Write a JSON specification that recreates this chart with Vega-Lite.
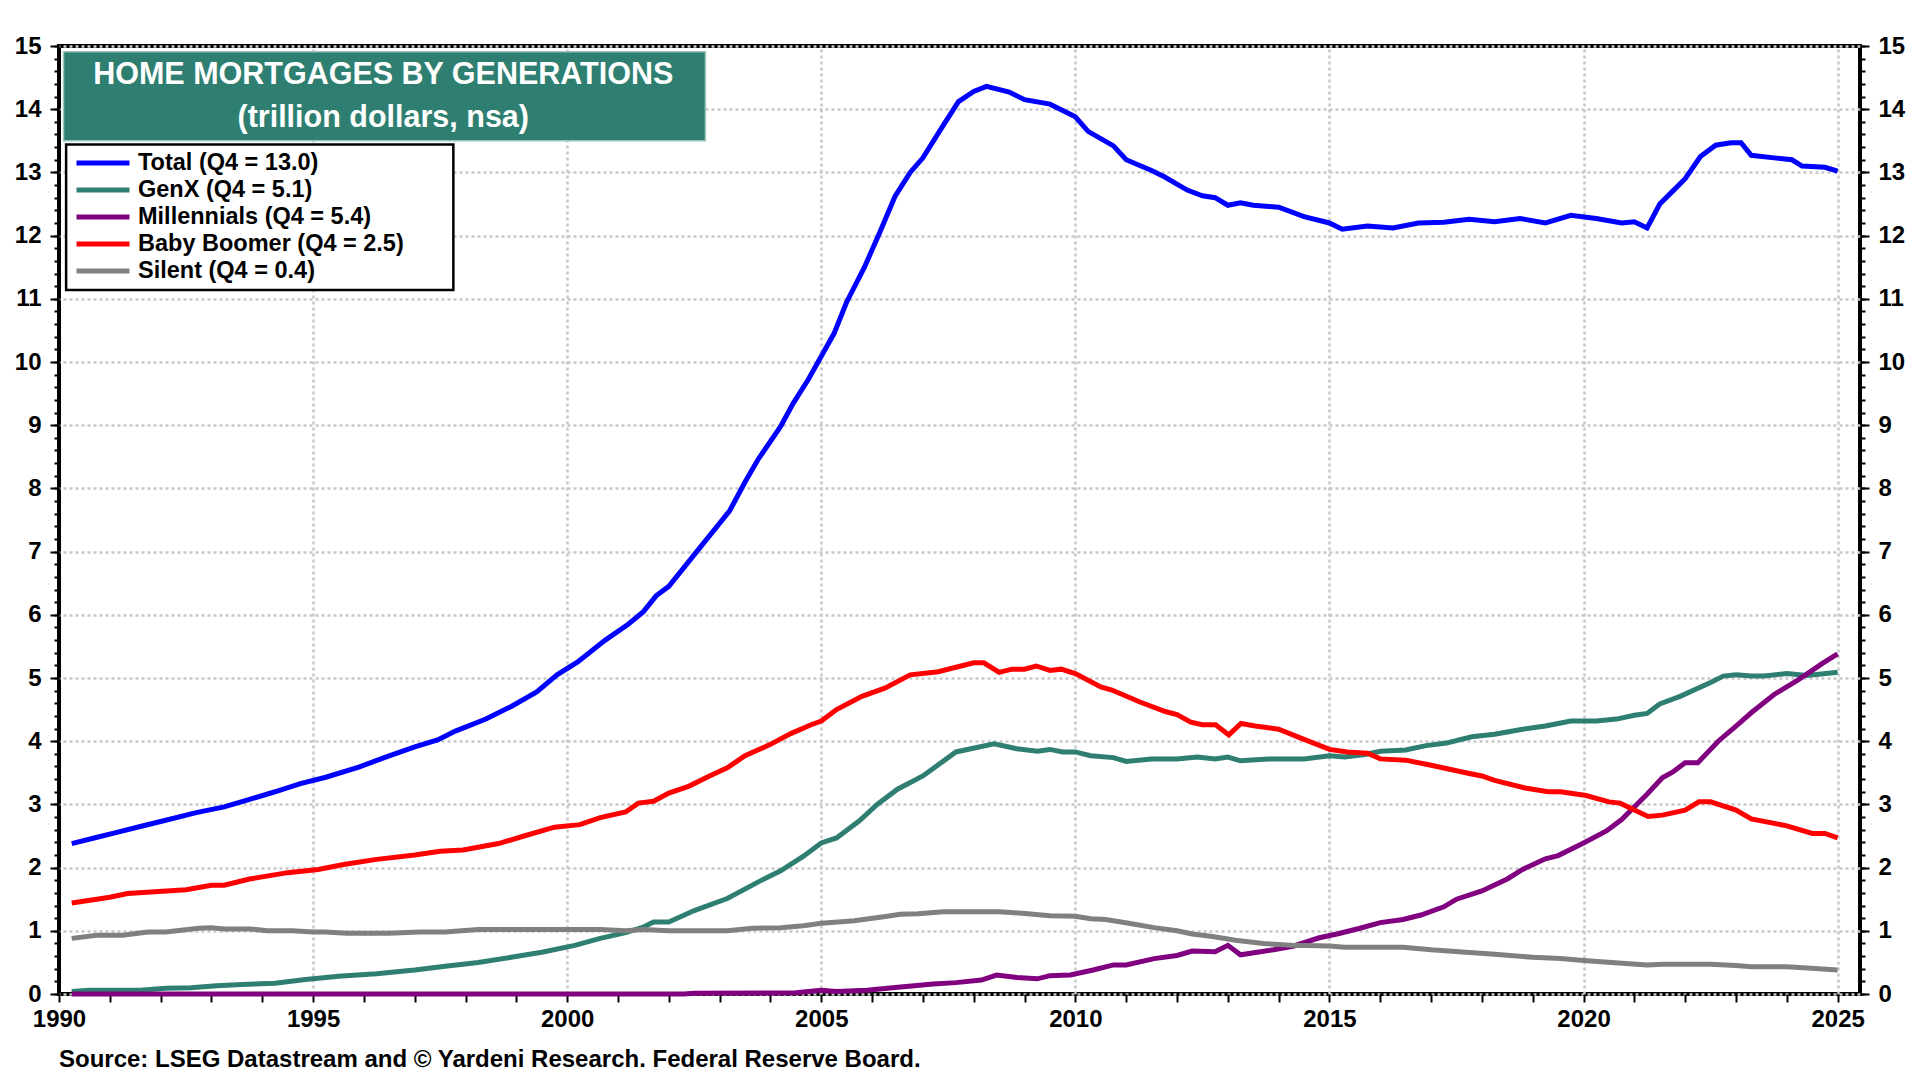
{
  "$schema": "https://vega.github.io/schema/vega-lite/v6.json",
  "width": 1801,
  "height": 948,
  "autosize": {"type": "none"},
  "padding": {"left": 59, "top": 46, "right": 60, "bottom": 86},
  "background": "white",
  "title": {"text": "Source: LSEG Datastream and © Yardeni Research. Federal Reserve Board.", "orient": "bottom", "anchor": "start", "frame": "group", "fontSize": 24, "font": "Liberation Sans", "fontWeight": "bold", "color": "black", "offset": 17},
  "config": {
    "view": {"stroke": "black", "strokeWidth": 4},
    "font": "Liberation Sans",
    "axis": {"labelFont": "Liberation Sans", "labelFontWeight": "bold", "labelFontSize": 24, "labelColor": "black", "tickColor": "black", "tickWidth": 2, "gridColor": "#c8c8c8", "gridDash": [3, 3], "gridWidth": 2.5, "domain": false, "title": null},
    "legend": {"strokeWidth": 0}
  },
  "data": {"values": [
    {"t":1990.25,"s":"Total","v":2.38},{"t":1990.75,"s":"Total","v":2.48},{"t":1991.1,"s":"Total","v":2.55},{"t":1991.6,"s":"Total","v":2.65},{"t":1992.1,"s":"Total","v":2.75},{"t":1992.7,"s":"Total","v":2.87},{"t":1993.25,"s":"Total","v":2.96},{"t":1993.75,"s":"Total","v":3.08},{"t":1994.25,"s":"Total","v":3.2},{"t":1994.75,"s":"Total","v":3.33},{"t":1995.25,"s":"Total","v":3.43},{"t":1995.9,"s":"Total","v":3.59},{"t":1996.4,"s":"Total","v":3.74},{"t":1997.0,"s":"Total","v":3.91},{"t":1997.45,"s":"Total","v":4.02},{"t":1997.8,"s":"Total","v":4.16},{"t":1998.4,"s":"Total","v":4.35},{"t":1998.9,"s":"Total","v":4.55},{"t":1999.4,"s":"Total","v":4.78},{"t":1999.8,"s":"Total","v":5.05},{"t":2000.2,"s":"Total","v":5.25},{"t":2000.75,"s":"Total","v":5.6},{"t":2001.2,"s":"Total","v":5.85},{"t":2001.5,"s":"Total","v":6.05},{"t":2001.75,"s":"Total","v":6.3},{"t":2002.0,"s":"Total","v":6.45},{"t":2002.45,"s":"Total","v":6.9},{"t":2003.2,"s":"Total","v":7.65},{"t":2003.5,"s":"Total","v":8.1},{"t":2003.75,"s":"Total","v":8.45},{"t":2004.2,"s":"Total","v":8.98},{"t":2004.45,"s":"Total","v":9.35},{"t":2004.75,"s":"Total","v":9.73},{"t":2005.0,"s":"Total","v":10.09},{"t":2005.25,"s":"Total","v":10.45},{"t":2005.5,"s":"Total","v":10.95},{"t":2005.85,"s":"Total","v":11.5},{"t":2006.15,"s":"Total","v":12.05},{"t":2006.45,"s":"Total","v":12.62},{"t":2006.75,"s":"Total","v":13.0},{"t":2007.0,"s":"Total","v":13.23},{"t":2007.35,"s":"Total","v":13.68},{"t":2007.7,"s":"Total","v":14.12},{"t":2008.0,"s":"Total","v":14.28},{"t":2008.25,"s":"Total","v":14.36},{"t":2008.7,"s":"Total","v":14.27},{"t":2009.0,"s":"Total","v":14.15},{"t":2009.5,"s":"Total","v":14.08},{"t":2010.0,"s":"Total","v":13.88},{"t":2010.25,"s":"Total","v":13.65},{"t":2010.75,"s":"Total","v":13.42},{"t":2011.0,"s":"Total","v":13.2},{"t":2011.5,"s":"Total","v":13.03},{"t":2011.75,"s":"Total","v":12.93},{"t":2012.2,"s":"Total","v":12.72},{"t":2012.5,"s":"Total","v":12.63},{"t":2012.75,"s":"Total","v":12.6},{"t":2013.0,"s":"Total","v":12.48},{"t":2013.25,"s":"Total","v":12.52},{"t":2013.5,"s":"Total","v":12.48},{"t":2014.0,"s":"Total","v":12.45},{"t":2014.5,"s":"Total","v":12.3},{"t":2015.0,"s":"Total","v":12.2},{"t":2015.25,"s":"Total","v":12.1},{"t":2015.75,"s":"Total","v":12.15},{"t":2016.25,"s":"Total","v":12.12},{"t":2016.75,"s":"Total","v":12.2},{"t":2017.25,"s":"Total","v":12.21},{"t":2017.75,"s":"Total","v":12.26},{"t":2018.25,"s":"Total","v":12.22},{"t":2018.75,"s":"Total","v":12.27},{"t":2019.25,"s":"Total","v":12.2},{"t":2019.75,"s":"Total","v":12.32},{"t":2020.25,"s":"Total","v":12.27},{"t":2020.75,"s":"Total","v":12.2},{"t":2021.0,"s":"Total","v":12.22},{"t":2021.25,"s":"Total","v":12.12},{"t":2021.5,"s":"Total","v":12.5},{"t":2021.75,"s":"Total","v":12.7},{"t":2022.0,"s":"Total","v":12.9},{"t":2022.3,"s":"Total","v":13.25},{"t":2022.6,"s":"Total","v":13.43},{"t":2022.9,"s":"Total","v":13.47},{"t":2023.1,"s":"Total","v":13.47},{"t":2023.3,"s":"Total","v":13.27},{"t":2023.75,"s":"Total","v":13.23},{"t":2024.1,"s":"Total","v":13.2},{"t":2024.3,"s":"Total","v":13.1},{"t":2024.75,"s":"Total","v":13.08},{"t":2025.0,"s":"Total","v":13.02},
    {"t":1990.25,"s":"GenX","v":0.04},{"t":1990.6,"s":"GenX","v":0.06},{"t":1991.6,"s":"GenX","v":0.06},{"t":1992.1,"s":"GenX","v":0.09},{"t":1992.6,"s":"GenX","v":0.1},{"t":1993.1,"s":"GenX","v":0.13},{"t":1993.6,"s":"GenX","v":0.15},{"t":1994.25,"s":"GenX","v":0.17},{"t":1994.85,"s":"GenX","v":0.23},{"t":1995.5,"s":"GenX","v":0.28},{"t":1996.25,"s":"GenX","v":0.32},{"t":1997.0,"s":"GenX","v":0.38},{"t":1997.6,"s":"GenX","v":0.44},{"t":1998.25,"s":"GenX","v":0.5},{"t":1998.9,"s":"GenX","v":0.58},{"t":1999.5,"s":"GenX","v":0.66},{"t":2000.15,"s":"GenX","v":0.77},{"t":2000.65,"s":"GenX","v":0.88},{"t":2001.15,"s":"GenX","v":0.97},{"t":2001.5,"s":"GenX","v":1.06},{"t":2001.7,"s":"GenX","v":1.14},{"t":2002.0,"s":"GenX","v":1.14},{"t":2002.5,"s":"GenX","v":1.32},{"t":2003.15,"s":"GenX","v":1.51},{"t":2003.8,"s":"GenX","v":1.79},{"t":2004.2,"s":"GenX","v":1.95},{"t":2004.65,"s":"GenX","v":2.18},{"t":2005.0,"s":"GenX","v":2.39},{"t":2005.3,"s":"GenX","v":2.47},{"t":2005.75,"s":"GenX","v":2.74},{"t":2006.1,"s":"GenX","v":3.0},{"t":2006.5,"s":"GenX","v":3.24},{"t":2007.0,"s":"GenX","v":3.45},{"t":2007.65,"s":"GenX","v":3.83},{"t":2008.4,"s":"GenX","v":3.96},{"t":2008.85,"s":"GenX","v":3.88},{"t":2009.25,"s":"GenX","v":3.84},{"t":2009.5,"s":"GenX","v":3.87},{"t":2009.75,"s":"GenX","v":3.83},{"t":2010.0,"s":"GenX","v":3.83},{"t":2010.3,"s":"GenX","v":3.77},{"t":2010.75,"s":"GenX","v":3.74},{"t":2011.0,"s":"GenX","v":3.68},{"t":2011.5,"s":"GenX","v":3.72},{"t":2012.0,"s":"GenX","v":3.72},{"t":2012.4,"s":"GenX","v":3.75},{"t":2012.75,"s":"GenX","v":3.72},{"t":2013.0,"s":"GenX","v":3.75},{"t":2013.25,"s":"GenX","v":3.69},{"t":2013.8,"s":"GenX","v":3.72},{"t":2014.5,"s":"GenX","v":3.72},{"t":2015.0,"s":"GenX","v":3.77},{"t":2015.3,"s":"GenX","v":3.75},{"t":2015.7,"s":"GenX","v":3.79},{"t":2016.0,"s":"GenX","v":3.84},{"t":2016.5,"s":"GenX","v":3.86},{"t":2016.9,"s":"GenX","v":3.93},{"t":2017.3,"s":"GenX","v":3.97},{"t":2017.8,"s":"GenX","v":4.07},{"t":2018.25,"s":"GenX","v":4.11},{"t":2018.8,"s":"GenX","v":4.19},{"t":2019.25,"s":"GenX","v":4.24},{"t":2019.75,"s":"GenX","v":4.32},{"t":2020.25,"s":"GenX","v":4.32},{"t":2020.65,"s":"GenX","v":4.35},{"t":2021.0,"s":"GenX","v":4.41},{"t":2021.25,"s":"GenX","v":4.44},{"t":2021.5,"s":"GenX","v":4.59},{"t":2021.9,"s":"GenX","v":4.71},{"t":2022.5,"s":"GenX","v":4.93},{"t":2022.75,"s":"GenX","v":5.03},{"t":2023.0,"s":"GenX","v":5.05},{"t":2023.3,"s":"GenX","v":5.03},{"t":2023.55,"s":"GenX","v":5.03},{"t":2024.0,"s":"GenX","v":5.07},{"t":2024.4,"s":"GenX","v":5.04},{"t":2025.0,"s":"GenX","v":5.09},
    {"t":1990.25,"s":"Millennials","v":0.0},{"t":2002.3,"s":"Millennials","v":0.0},{"t":2002.5,"s":"Millennials","v":0.01},{"t":2004.5,"s":"Millennials","v":0.02},{"t":2004.75,"s":"Millennials","v":0.04},{"t":2005.0,"s":"Millennials","v":0.06},{"t":2005.3,"s":"Millennials","v":0.04},{"t":2005.9,"s":"Millennials","v":0.06},{"t":2006.4,"s":"Millennials","v":0.1},{"t":2007.2,"s":"Millennials","v":0.16},{"t":2007.65,"s":"Millennials","v":0.18},{"t":2008.15,"s":"Millennials","v":0.22},{"t":2008.45,"s":"Millennials","v":0.3},{"t":2008.85,"s":"Millennials","v":0.26},{"t":2009.25,"s":"Millennials","v":0.24},{"t":2009.5,"s":"Millennials","v":0.29},{"t":2009.9,"s":"Millennials","v":0.3},{"t":2010.35,"s":"Millennials","v":0.38},{"t":2010.75,"s":"Millennials","v":0.46},{"t":2011.0,"s":"Millennials","v":0.46},{"t":2011.55,"s":"Millennials","v":0.56},{"t":2012.0,"s":"Millennials","v":0.61},{"t":2012.3,"s":"Millennials","v":0.68},{"t":2012.75,"s":"Millennials","v":0.67},{"t":2013.0,"s":"Millennials","v":0.77},{"t":2013.25,"s":"Millennials","v":0.62},{"t":2013.9,"s":"Millennials","v":0.7},{"t":2014.3,"s":"Millennials","v":0.76},{"t":2014.8,"s":"Millennials","v":0.89},{"t":2015.15,"s":"Millennials","v":0.95},{"t":2015.6,"s":"Millennials","v":1.04},{"t":2016.0,"s":"Millennials","v":1.13},{"t":2016.45,"s":"Millennials","v":1.18},{"t":2016.8,"s":"Millennials","v":1.25},{"t":2017.25,"s":"Millennials","v":1.38},{"t":2017.5,"s":"Millennials","v":1.5},{"t":2018.0,"s":"Millennials","v":1.63},{"t":2018.5,"s":"Millennials","v":1.82},{"t":2018.8,"s":"Millennials","v":1.97},{"t":2019.25,"s":"Millennials","v":2.14},{"t":2019.5,"s":"Millennials","v":2.19},{"t":2020.0,"s":"Millennials","v":2.39},{"t":2020.45,"s":"Millennials","v":2.58},{"t":2020.75,"s":"Millennials","v":2.76},{"t":2021.25,"s":"Millennials","v":3.16},{"t":2021.55,"s":"Millennials","v":3.42},{"t":2021.75,"s":"Millennials","v":3.51},{"t":2022.0,"s":"Millennials","v":3.66},{"t":2022.25,"s":"Millennials","v":3.66},{"t":2022.65,"s":"Millennials","v":4.0},{"t":2023.0,"s":"Millennials","v":4.24},{"t":2023.3,"s":"Millennials","v":4.45},{"t":2023.75,"s":"Millennials","v":4.74},{"t":2024.2,"s":"Millennials","v":4.96},{"t":2024.5,"s":"Millennials","v":5.12},{"t":2024.7,"s":"Millennials","v":5.23},{"t":2025.0,"s":"Millennials","v":5.38},
    {"t":1990.25,"s":"Baby Boomer","v":1.44},{"t":1991.0,"s":"Baby Boomer","v":1.53},{"t":1991.35,"s":"Baby Boomer","v":1.59},{"t":1992.5,"s":"Baby Boomer","v":1.65},{"t":1993.0,"s":"Baby Boomer","v":1.72},{"t":1993.25,"s":"Baby Boomer","v":1.72},{"t":1993.75,"s":"Baby Boomer","v":1.82},{"t":1994.5,"s":"Baby Boomer","v":1.92},{"t":1995.1,"s":"Baby Boomer","v":1.97},{"t":1995.6,"s":"Baby Boomer","v":2.05},{"t":1996.25,"s":"Baby Boomer","v":2.13},{"t":1997.0,"s":"Baby Boomer","v":2.2},{"t":1997.5,"s":"Baby Boomer","v":2.26},{"t":1997.95,"s":"Baby Boomer","v":2.28},{"t":1998.65,"s":"Baby Boomer","v":2.38},{"t":1999.15,"s":"Baby Boomer","v":2.5},{"t":1999.75,"s":"Baby Boomer","v":2.64},{"t":2000.25,"s":"Baby Boomer","v":2.68},{"t":2000.65,"s":"Baby Boomer","v":2.79},{"t":2001.15,"s":"Baby Boomer","v":2.88},{"t":2001.4,"s":"Baby Boomer","v":3.02},{"t":2001.7,"s":"Baby Boomer","v":3.05},{"t":2002.0,"s":"Baby Boomer","v":3.18},{"t":2002.4,"s":"Baby Boomer","v":3.29},{"t":2002.8,"s":"Baby Boomer","v":3.45},{"t":2003.15,"s":"Baby Boomer","v":3.58},{"t":2003.5,"s":"Baby Boomer","v":3.77},{"t":2004.0,"s":"Baby Boomer","v":3.95},{"t":2004.4,"s":"Baby Boomer","v":4.12},{"t":2004.8,"s":"Baby Boomer","v":4.26},{"t":2005.0,"s":"Baby Boomer","v":4.32},{"t":2005.3,"s":"Baby Boomer","v":4.5},{"t":2005.8,"s":"Baby Boomer","v":4.71},{"t":2006.25,"s":"Baby Boomer","v":4.84},{"t":2006.75,"s":"Baby Boomer","v":5.05},{"t":2007.3,"s":"Baby Boomer","v":5.1},{"t":2008.0,"s":"Baby Boomer","v":5.24},{"t":2008.2,"s":"Baby Boomer","v":5.24},{"t":2008.5,"s":"Baby Boomer","v":5.09},{"t":2008.75,"s":"Baby Boomer","v":5.14},{"t":2009.0,"s":"Baby Boomer","v":5.14},{"t":2009.23,"s":"Baby Boomer","v":5.19},{"t":2009.5,"s":"Baby Boomer","v":5.12},{"t":2009.72,"s":"Baby Boomer","v":5.14},{"t":2010.0,"s":"Baby Boomer","v":5.07},{"t":2010.5,"s":"Baby Boomer","v":4.86},{"t":2010.72,"s":"Baby Boomer","v":4.81},{"t":2011.27,"s":"Baby Boomer","v":4.62},{"t":2011.77,"s":"Baby Boomer","v":4.47},{"t":2012.0,"s":"Baby Boomer","v":4.42},{"t":2012.27,"s":"Baby Boomer","v":4.3},{"t":2012.5,"s":"Baby Boomer","v":4.26},{"t":2012.76,"s":"Baby Boomer","v":4.26},{"t":2013.02,"s":"Baby Boomer","v":4.1},{"t":2013.26,"s":"Baby Boomer","v":4.28},{"t":2013.54,"s":"Baby Boomer","v":4.24},{"t":2014.0,"s":"Baby Boomer","v":4.19},{"t":2014.5,"s":"Baby Boomer","v":4.03},{"t":2015.0,"s":"Baby Boomer","v":3.87},{"t":2015.35,"s":"Baby Boomer","v":3.83},{"t":2015.75,"s":"Baby Boomer","v":3.81},{"t":2016.0,"s":"Baby Boomer","v":3.72},{"t":2016.5,"s":"Baby Boomer","v":3.7},{"t":2017.0,"s":"Baby Boomer","v":3.62},{"t":2017.75,"s":"Baby Boomer","v":3.49},{"t":2018.0,"s":"Baby Boomer","v":3.45},{"t":2018.25,"s":"Baby Boomer","v":3.38},{"t":2018.85,"s":"Baby Boomer","v":3.26},{"t":2019.3,"s":"Baby Boomer","v":3.2},{"t":2019.55,"s":"Baby Boomer","v":3.2},{"t":2020.05,"s":"Baby Boomer","v":3.14},{"t":2020.5,"s":"Baby Boomer","v":3.04},{"t":2020.72,"s":"Baby Boomer","v":3.02},{"t":2021.27,"s":"Baby Boomer","v":2.81},{"t":2021.55,"s":"Baby Boomer","v":2.83},{"t":2022.0,"s":"Baby Boomer","v":2.91},{"t":2022.27,"s":"Baby Boomer","v":3.04},{"t":2022.5,"s":"Baby Boomer","v":3.04},{"t":2023.0,"s":"Baby Boomer","v":2.91},{"t":2023.3,"s":"Baby Boomer","v":2.77},{"t":2024.0,"s":"Baby Boomer","v":2.66},{"t":2024.5,"s":"Baby Boomer","v":2.54},{"t":2024.75,"s":"Baby Boomer","v":2.54},{"t":2025.0,"s":"Baby Boomer","v":2.47},
    {"t":1990.25,"s":"Silent","v":0.88},{"t":1990.75,"s":"Silent","v":0.93},{"t":1991.25,"s":"Silent","v":0.93},{"t":1991.75,"s":"Silent","v":0.98},{"t":1992.1,"s":"Silent","v":0.98},{"t":1992.75,"s":"Silent","v":1.04},{"t":1993.0,"s":"Silent","v":1.05},{"t":1993.25,"s":"Silent","v":1.03},{"t":1993.75,"s":"Silent","v":1.03},{"t":1994.1,"s":"Silent","v":1.0},{"t":1994.6,"s":"Silent","v":1.0},{"t":1995.0,"s":"Silent","v":0.98},{"t":1995.25,"s":"Silent","v":0.98},{"t":1995.65,"s":"Silent","v":0.96},{"t":1996.5,"s":"Silent","v":0.96},{"t":1997.1,"s":"Silent","v":0.98},{"t":1997.6,"s":"Silent","v":0.98},{"t":1998.25,"s":"Silent","v":1.02},{"t":2000.65,"s":"Silent","v":1.02},{"t":2001.15,"s":"Silent","v":1.0},{"t":2001.5,"s":"Silent","v":1.02},{"t":2002.0,"s":"Silent","v":1.0},{"t":2003.15,"s":"Silent","v":1.0},{"t":2003.65,"s":"Silent","v":1.04},{"t":2004.2,"s":"Silent","v":1.05},{"t":2004.65,"s":"Silent","v":1.08},{"t":2005.0,"s":"Silent","v":1.12},{"t":2005.65,"s":"Silent","v":1.16},{"t":2006.3,"s":"Silent","v":1.23},{"t":2006.55,"s":"Silent","v":1.26},{"t":2006.9,"s":"Silent","v":1.27},{"t":2007.4,"s":"Silent","v":1.3},{"t":2008.5,"s":"Silent","v":1.3},{"t":2008.9,"s":"Silent","v":1.28},{"t":2009.5,"s":"Silent","v":1.24},{"t":2010.0,"s":"Silent","v":1.23},{"t":2010.3,"s":"Silent","v":1.19},{"t":2010.6,"s":"Silent","v":1.18},{"t":2011.05,"s":"Silent","v":1.12},{"t":2011.55,"s":"Silent","v":1.05},{"t":2012.0,"s":"Silent","v":1.0},{"t":2012.3,"s":"Silent","v":0.95},{"t":2012.7,"s":"Silent","v":0.91},{"t":2013.15,"s":"Silent","v":0.85},{"t":2013.7,"s":"Silent","v":0.8},{"t":2014.25,"s":"Silent","v":0.77},{"t":2015.0,"s":"Silent","v":0.76},{"t":2015.3,"s":"Silent","v":0.74},{"t":2016.45,"s":"Silent","v":0.74},{"t":2017.0,"s":"Silent","v":0.7},{"t":2017.55,"s":"Silent","v":0.67},{"t":2018.25,"s":"Silent","v":0.63},{"t":2019.0,"s":"Silent","v":0.58},{"t":2019.55,"s":"Silent","v":0.56},{"t":2020.0,"s":"Silent","v":0.53},{"t":2020.55,"s":"Silent","v":0.5},{"t":2021.25,"s":"Silent","v":0.46},{"t":2021.55,"s":"Silent","v":0.47},{"t":2022.5,"s":"Silent","v":0.47},{"t":2023.0,"s":"Silent","v":0.45},{"t":2023.3,"s":"Silent","v":0.43},{"t":2024.0,"s":"Silent","v":0.43},{"t":2024.4,"s":"Silent","v":0.41},{"t":2025.0,"s":"Silent","v":0.38}
  ]},
  "resolve": {"axis": {"x": "independent", "y": "independent"}},
  "layer": [
    {
      "mark": {"type": "point", "opacity": 0},
      "encoding": {
        "x": {"field": "t", "type": "quantitative", "scale": {"domain": [1990, 2025.44], "nice": false, "zero": false}, "axis": {"orient": "top", "values": [1995, 2000, 2005, 2010, 2015, 2020, 2025], "grid": true, "ticks": false, "labels": false, "domain": false}},
        "y": {"field": "v", "type": "quantitative", "scale": {"domain": [0, 15], "nice": false}, "axis": {"orient": "right", "values": [0,1,2,3,4,5,6,7,8,9,10,11,12,13,14,15], "grid": true, "tickSize": 9, "labelPadding": 9, "labelAlign": "left"}}
      }
    },
    {
      "mark": {"type": "point", "opacity": 0},
      "encoding": {
        "y": {"field": "v", "type": "quantitative", "axis": {"orient": "left", "values": [0,0.2,0.4,0.6,0.8,1,1.2,1.4,1.6,1.8,2,2.2,2.4,2.6,2.8,3,3.2,3.4,3.6,3.8,4,4.2,4.4,4.6,4.8,5,5.2,5.4,5.6,5.8,6,6.2,6.4,6.6,6.8,7,7.2,7.4,7.6,7.8,8,8.2,8.4,8.6,8.8,9,9.2,9.4,9.6,9.8,10,10.2,10.4,10.6,10.8,11,11.2,11.4,11.6,11.8,12,12.2,12.4,12.6,12.8,13,13.2,13.4,13.6,13.8,14,14.2,14.4,14.6,14.8,15], "labels": false, "grid": false, "tickSize": 5}}
      }
    },
    {
      "mark": {"type": "point", "opacity": 0},
      "encoding": {
        "y": {"field": "v", "type": "quantitative", "axis": {"orient": "right", "values": [0,0.2,0.4,0.6,0.8,1,1.2,1.4,1.6,1.8,2,2.2,2.4,2.6,2.8,3,3.2,3.4,3.6,3.8,4,4.2,4.4,4.6,4.8,5,5.2,5.4,5.6,5.8,6,6.2,6.4,6.6,6.8,7,7.2,7.4,7.6,7.8,8,8.2,8.4,8.6,8.8,9,9.2,9.4,9.6,9.8,10,10.2,10.4,10.6,10.8,11,11.2,11.4,11.6,11.8,12,12.2,12.4,12.6,12.8,13,13.2,13.4,13.6,13.8,14,14.2,14.4,14.6,14.8,15], "labels": false, "grid": false, "tickSize": 5}}
      }
    },
    {
      "mark": {"type": "line", "strokeWidth": 5, "strokeJoin": "miter"},
      "encoding": {
        "x": {"field": "t", "type": "quantitative", "axis": {"orient": "bottom", "values": [1990,1991,1992,1993,1994,1995,1996,1997,1998,1999,2000,2001,2002,2003,2004,2005,2006,2007,2008,2009,2010,2011,2012,2013,2014,2015,2016,2017,2018,2019,2020,2021,2022,2023,2024,2025], "labelExpr": "datum.value % 5 === 0 ? format(datum.value, 'd') : ''", "labelOverlap": false, "labelFlush": false, "grid": false, "tickSize": 8, "labelPadding": 5}},
        "y": {"field": "v", "type": "quantitative", "axis": {"orient": "left", "values": [0,1,2,3,4,5,6,7,8,9,10,11,12,13,14,15], "grid": false, "tickSize": 9, "labelPadding": 9}},
        "color": {"field": "s", "type": "nominal", "scale": {"domain": ["Total", "GenX", "Millennials", "Baby Boomer", "Silent"], "range": ["#0000ff", "#2e7f72", "#800080", "#ff0000", "#808080"]},
          "legend": {"orient": "none", "legendX": 7, "legendY": 97, "title": null, "symbolType": "M-2.2,0H2.2", "symbolSize": 580, "symbolStrokeWidth": 5, "symbolOffset": 17, "labelFontSize": 23.5, "labelLimit": 600, "labelFont": "Liberation Sans", "labelFontWeight": "bold", "labelColor": "black", "padding": 5, "rowPadding": 0, "labelOffset": 20,
            "labelExpr": "datum.label == 'Total' ? 'Total (Q4 = 13.0)' : datum.label == 'GenX' ? 'GenX (Q4 = 5.1)' : datum.label == 'Millennials' ? 'Millennials (Q4 = 5.4)' : datum.label == 'Baby Boomer' ? 'Baby Boomer (Q4 = 2.5)' : 'Silent (Q4 = 0.4)'"}}
      }
    },
    {
      "data": {"values": [{}]},
      "mark": {"type": "rect", "fill": "white", "stroke": "black", "strokeWidth": 2.5},
      "encoding": {
        "x": {"datum": 1990.14, "type": "quantitative", "axis": null},
        "x2": {"datum": 1997.76},
        "y": {"datum": 13.44, "type": "quantitative", "axis": null},
        "y2": {"datum": 11.14}
      }
    },
    {
      "data": {"values": [{}]},
      "mark": {"type": "rect", "fill": "#2e7f72", "stroke": "#9cc4bc", "strokeWidth": 1.5},
      "encoding": {
        "x": {"datum": 1990.09, "type": "quantitative", "axis": null},
        "x2": {"datum": 2002.72},
        "y": {"datum": 14.91, "type": "quantitative", "axis": null},
        "y2": {"datum": 13.5}
      }
    },
    {
      "data": {"values": [{}]},
      "mark": {"type": "text", "text": "HOME MORTGAGES BY GENERATIONS", "font": "Liberation Sans", "fontWeight": "bold", "fontSize": 30.5, "color": "white", "align": "center", "baseline": "middle"},
      "encoding": {
        "x": {"datum": 1996.38, "type": "quantitative", "axis": null},
        "y": {"datum": 14.54, "type": "quantitative", "axis": null}
      }
    },
    {
      "data": {"values": [{}]},
      "mark": {"type": "text", "text": "(trillion dollars, nsa)", "font": "Liberation Sans", "fontWeight": "bold", "fontSize": 30.5, "color": "white", "align": "center", "baseline": "middle"},
      "encoding": {
        "x": {"datum": 1996.38, "type": "quantitative", "axis": null},
        "y": {"datum": 13.86, "type": "quantitative", "axis": null}
      }
    }
  ]
}
